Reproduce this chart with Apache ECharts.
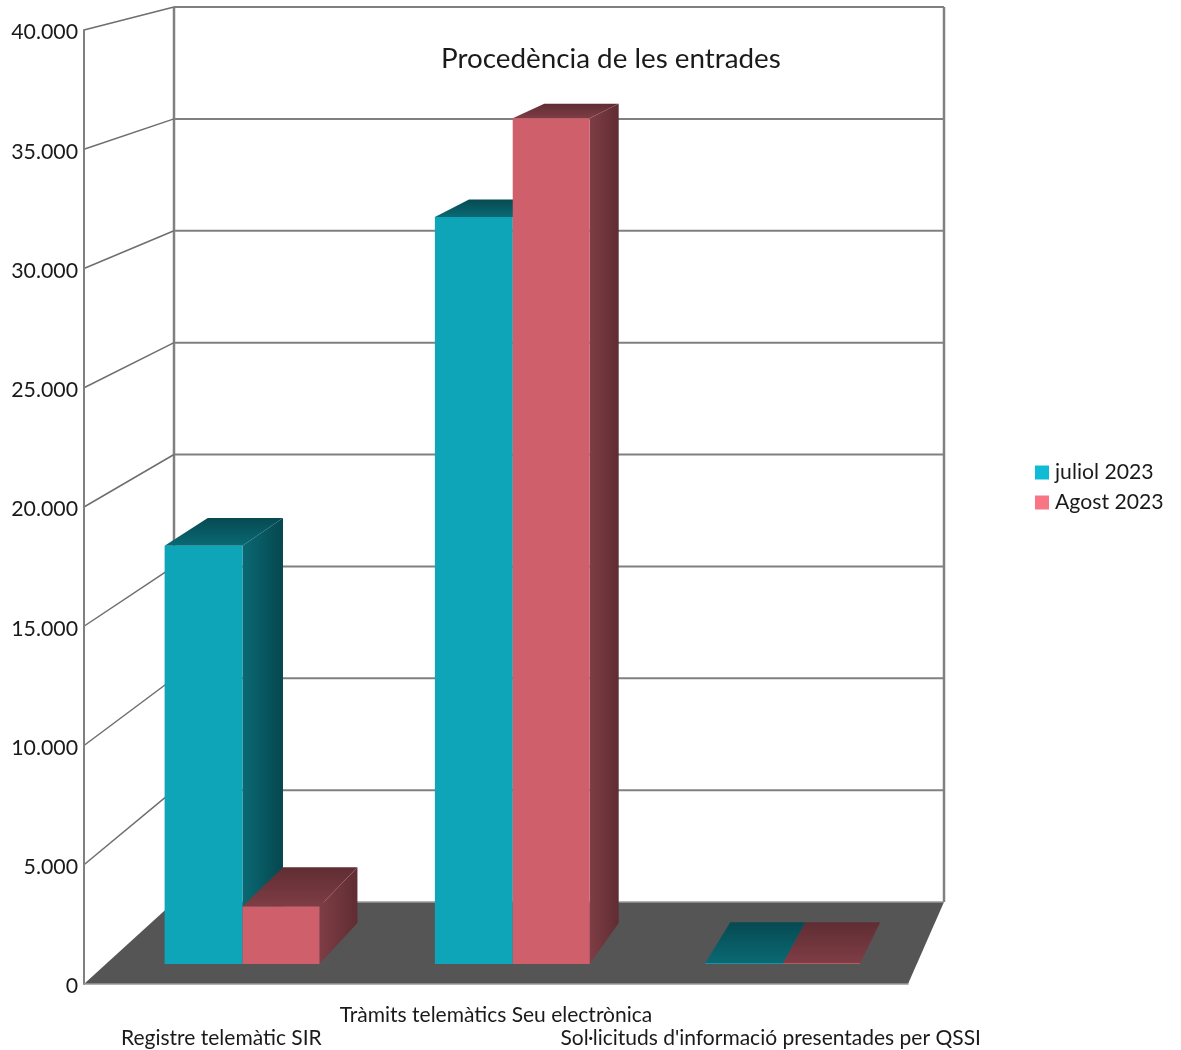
<!DOCTYPE html>
<html>
<head>
<meta charset="utf-8">
<style>html,body{margin:0;padding:0;background:#fff}#chart{width:1181px;height:1050px}</style>
<script src="https://cdn.jsdelivr.net/npm/echarts@6/dist/echarts.min.js"></script>
</head>
<body>
<div id="chart"></div>
<script>
const categories = ['Registre telemàtic SIR', 'Tràmits telemàtics Seu electrònica', "Sol·licituds d'informació presentades per QSSI"];
const julyValues = [17800, 31800, 30];
const augustValues = [2450, 36000, 30];
const yTicks = [0, 5000, 10000, 15000, 20000, 25000, 30000, 35000, 40000];
const titleText = 'Procedència de les entrades';

// Oblique box projection: depth 0 is the plane of the axes, depth 1 the back wall.
const BACK = { left: 90, right: 36, rise: 82, shrink: 59 };
const BAR_NEAR = 0.244, BAR_FAR = 0.745;

function projector(rect) {
  const bottom = rect.y + rect.height;
  return function (fx, fy, d) {
    const l = rect.x + BACK.left * d;
    const r = rect.x + rect.width + BACK.right * d;
    return [l + (r - l) * fx, bottom - BACK.rise * d - (rect.height - BACK.shrink * d) * fy];
  };
}
function poly(points, fill) {
  return { type: 'polygon', shape: { points }, style: { fill } };
}
function grad(x0, y0, x1, y1, from, to) {
  return {
    type: 'linear', global: true, x: x0, y: y0, x2: x1, y2: y1,
    colorStops: [{ offset: 0, color: from }, { offset: 1, color: to }]
  };
}

function renderFrame(params, api) {
  const rect = params.coordSys;
  const project = projector(rect);
  const value = api.value(0);
  const py = api.coord([0, value])[1];
  const fy = (rect.y + rect.height - py) / rect.height;
  const children = [];
  const line = (a, b, stroke, lineWidth) => ({
    type: 'line', shape: { x1: a[0], y1: a[1], x2: b[0], y2: b[1] }, style: { stroke, lineWidth }
  });
  const frontL = project(0, fy, 0), backL = project(0, fy, 1), backR = project(1, fy, 1);
  if (value === 0) {
    children.push(poly([project(0, 0, 0), project(1, 0, 0), project(1, 0, 1), project(0, 0, 1)], '#555555'));
    children.push(line(project(0, 1, 1), project(0, 0, 1), '#808080', 2.5));
    children.push(line(project(1, 1, 1), project(1, 0, 1), '#808080', 2.5));
    children.push(line(project(0, 0, 1), project(1, 0, 1), '#9a9a9a', 1.5));
  } else {
    children.push(line(frontL, backL, '#6e6e6e', 1.5));
    children.push(line(backL, backR, '#808080', 2));
  }
  return { type: 'group', children };
}

function barRenderer(startOffset, endOffset, colors) {
  return function (params, api) {
    const rect = params.coordSys;
    const project = projector(rect);
    const point = api.coord([api.value(0), api.value(1)]);
    const band = api.size([1, 0])[0];
    const f0 = (point[0] - rect.x + startOffset * band) / rect.width;
    const f1 = (point[0] - rect.x + endOffset * band) / rect.width;
    const fy = (rect.y + rect.height - point[1]) / rect.height;
    const a = project(f0, 0, BAR_NEAR), b = project(f1, 0, BAR_NEAR);
    const c = project(f0, fy, BAR_NEAR), d = project(f1, fy, BAR_NEAR);
    const e = project(f1, 0, BAR_FAR), g = project(f1, fy, BAR_FAR), h = project(f0, fy, BAR_FAR);
    return {
      type: 'group',
      children: [
        poly([b, e, g, d], grad(b[0], 0, e[0], 0, colors.sideNear, colors.sideFar)),
        poly([c, d, g, h], grad(0, c[1], 0, h[1], colors.topNear, colors.topFar)),
        poly([a, b, d, c], colors.front)
      ]
    };
  };
}

const tealFaces = { front: '#0fa5b9', sideNear: '#0a6973', sideFar: '#06474f', topNear: '#0a6973', topFar: '#064a52' };
const redFaces = { front: '#cf5f6b', sideNear: '#7f3d45', sideFar: '#5f2d33', topNear: '#7f3d45', topFar: '#5f2d33' };
const textColor = '#1a1a1a';
const fontFamily = 'Lato';

const chart = echarts.init(document.getElementById('chart'), null, { renderer: 'canvas' });
chart.setOption({
  animation: false,
  backgroundColor: '#ffffff',
  title: {
    text: titleText, left: 436, top: 40,
    textStyle: { color: textColor, fontFamily, fontWeight: 'normal', fontSize: 27.8 }
  },
  legend: {
    orient: 'vertical', left: 1030, top: 457, itemWidth: 14, itemHeight: 14, itemGap: 9, icon: 'rect',
    textStyle: { color: textColor, fontFamily, fontSize: 21.2, padding: [0, 0, 0, 1] },
    data: [
      { name: 'juliol 2023', itemStyle: { color: '#10bcd5' } },
      { name: 'Agost 2023', itemStyle: { color: '#f87684' } }
    ]
  },
  grid: { left: 84, top: 30, width: 824, height: 954, containLabel: false },
  xAxis: {
    type: 'category', data: categories, z: 5,
    axisTick: { show: false },
    axisLine: { show: true, lineStyle: { color: '#999999', width: 1.5 } },
    axisLabel: {
      interval: 0, margin: 21, color: textColor, fontFamily, fontSize: 21, hideOverlap: false,
      formatter: (name, i) => (i % 2 === 0 ? '{low|' + name + '}' : '{high|' + name + '}'),
      rich: {
        low: { fontFamily, fontSize: 21, color: textColor, padding: [23, 0, 0, 0] },
        high: { fontFamily, fontSize: 21, color: textColor }
      }
    }
  },
  yAxis: {
    type: 'value', min: 0, max: 40000, interval: 5000, z: 5,
    splitLine: { show: false },
    axisTick: { show: false },
    axisLine: { show: true, lineStyle: { color: '#808080', width: 2 } },
    axisLabel: {
      margin: 6, color: textColor, fontFamily, fontSize: 21.3,
      formatter: v => '{tick|' + String(v).replace(/\B(?=(\d{3})+$)/g, '.') + '}',
      rich: { tick: { fontFamily, fontSize: 21.3, color: textColor, padding: [5, 0, 0, 0] } }
    }
  },
  series: [
    {
      type: 'custom', name: 'frame', silent: true, z: 1, clip: false,
      encode: { y: 0 }, data: yTicks.map(v => [v]), renderItem: renderFrame
    },
    {
      type: 'custom', name: 'juliol 2023', z: 2, clip: false, itemStyle: { color: '#10bcd5' },
      encode: { x: 0, y: 1 }, data: julyValues.map((v, i) => [i, v]),
      renderItem: barRenderer(-0.283, 0.005, tealFaces)
    },
    {
      type: 'custom', name: 'Agost 2023', z: 3, clip: false, itemStyle: { color: '#f87684' },
      encode: { x: 0, y: 1 }, data: augustValues.map((v, i) => [i, v]),
      renderItem: barRenderer(0.005, 0.29, redFaces)
    }
  ]
});
</script>
</body>
</html>
